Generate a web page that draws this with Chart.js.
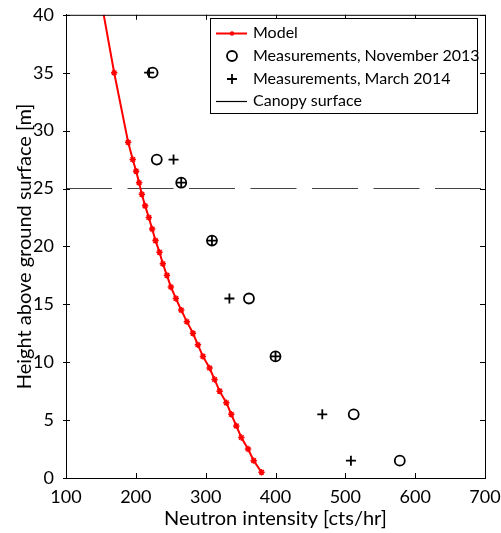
<!DOCTYPE html>
<html>
<head>
<meta charset="utf-8">
<script src="https://cdn.jsdelivr.net/npm/chart.js@4"></script>
<style>
html, body { margin: 0; padding: 0; background: #fff; }
#wrap { width: 501px; height: 533px; }
</style>
</head>
<body>
<div id="wrap"><canvas id="myChart" width="501" height="533"></canvas></div>
<script>
// Model profile (height in m, intensity in cts/hr)
var modelHeight = [40, 35, 29, 27.5, 26.5, 25.5, 24.5, 23.5, 22.5, 21.5, 20.5, 19.5, 18.5, 17.5, 16.5, 15.5,
                   14.5, 13.5, 12.5, 11.5, 10.5, 9.5, 8.5, 7.5, 6.5, 5.5, 4.5, 3.5, 2.5, 1.5, 0.5];
var modelIntensity = [154, 169, 189, 195.6, 200.4, 204.7, 208.6, 213.3, 218.6, 223.4, 228.2, 233.9, 238.7, 244.5, 250.2, 257.4,
                      265, 273.1, 281.8, 288.9, 296.1, 305.6, 312.8, 320, 329.6, 336.7, 343.9, 351.1, 360.7, 368.8, 380];

// Measurements
var measHeight = [35, 27.5, 25.5, 20.5, 15.5, 10.5, 5.5, 1.5];
var nov2013 = [224, 230, 265, 309, 362, 400, 512, 578];
var mar2014 = [219, 254, 265, 309, 334, 400, 467, 508];

// Canopy surface
var canopyHeight = 25;

var xTicks = [100, 200, 300, 400, 500, 600, 700];
var yTicks = [0, 5, 10, 15, 20, 25, 30, 35, 40];

function toPoints(xs, ys) {
    return xs.map(function(v, i) { return { x: v, y: ys[i] }; });
}

Chart.defaults.font.family = 'Lato';
Chart.defaults.color = '#000';

// Khung và vạch chia hướng vào trong
var framePlugin = {
    id: 'frame',
    afterDraw: function(chart) {
        var c = chart.ctx, a = chart.chartArea;
        var xs = chart.scales.x, ys = chart.scales.y;
        c.save();
        c.strokeStyle = '#000';
        c.lineWidth = 1;
        c.beginPath();
        c.rect(a.left + 0.5, a.top + 0.5, a.right - a.left, a.bottom - a.top);
        xTicks.forEach(function(t) {
            var px = Math.round(xs.getPixelForValue(t)) + 0.5;
            c.moveTo(px, a.bottom); c.lineTo(px, a.bottom - 5);
            c.moveTo(px, a.top); c.lineTo(px, a.top + 5);
        });
        yTicks.forEach(function(t) {
            var py = Math.round(ys.getPixelForValue(t)) + 0.5;
            c.moveTo(a.left - 3, py); c.lineTo(a.left + 4, py);
            c.moveTo(a.right, py); c.lineTo(a.right - 5, py);
        });
        c.stroke();
        c.restore();
    }
};

// Chú giải bên trong vùng vẽ
var legendPlugin = {
    id: 'boxLegend',
    afterDraw: function(chart) {
        var c = chart.ctx;
        var x0 = 210, y0 = 18, w = 267, h = 95;
        c.save();
        c.fillStyle = '#fff';
        c.fillRect(x0, y0, w, h);
        c.strokeStyle = '#000';
        c.lineWidth = 1;
        c.strokeRect(x0 + 0.5, y0 + 0.5, w, h);
        c.font = '16px Lato';
        c.textBaseline = 'middle';
        var rows = [33, 56, 79, 101];
        chart.data.datasets.forEach(function(ds, i) {
            var y = rows[i];
            c.strokeStyle = i === 3 ? '#000' : ds.borderColor;
            c.lineWidth = ds.borderWidth;
            if (i === 0 || i === 3) {
                c.beginPath();
                c.moveTo(216, y + 0.5); c.lineTo(247, y + 0.5);
                c.stroke();
                if (i === 0) {
                    c.fillStyle = ds.borderColor;
                    c.beginPath(); c.arc(232, y + 0.5, 2.2, 0, Math.PI * 2); c.fill();
                }
            } else if (i === 1) {
                c.beginPath(); c.arc(232, y, 5, 0, Math.PI * 2); c.stroke();
            } else {
                c.beginPath();
                c.moveTo(227, y); c.lineTo(237, y);
                c.moveTo(232, y - 5); c.lineTo(232, y + 5);
                c.stroke();
            }
            c.fillStyle = '#000';
            c.fillText(ds.label, 253, y);
        });
        c.restore();
    }
};

window.onload = function() {
    var ctx = document.getElementById('myChart').getContext('2d');
    new Chart(ctx, {
        type: 'scatter',
        data: {
            datasets: [{
                label: 'Model',
                data: toPoints(modelIntensity, modelHeight),
                showLine: true,
                borderColor: '#ff0000',
                backgroundColor: '#ff0000',
                borderWidth: 2,
                pointStyle: 'star',
                pointBorderWidth: 1.5,
                pointRadius: modelHeight.map(function(hh) { return hh >= 40 ? 0 : 3.2; }),
                order: 0
            }, {
                label: 'Measurements, November 2013',
                data: toPoints(nov2013, measHeight),
                borderColor: '#000',
                backgroundColor: 'rgba(0,0,0,0)',
                borderWidth: 1.8,
                pointStyle: 'circle',
                pointRadius: 5,
                order: 1
            }, {
                label: 'Measurements, March 2014',
                data: toPoints(mar2014, measHeight),
                borderColor: '#000',
                borderWidth: 1.8,
                pointStyle: 'cross',
                pointRadius: 5,
                order: 2
            }, {
                label: 'Canopy surface',
                data: [{ x: 100, y: canopyHeight }, { x: 700, y: canopyHeight }],
                showLine: true,
                borderColor: '#444',
                borderWidth: 1.2,
                borderDash: [46, 15.5],
                pointRadius: 0,
                order: 3
            }]
        },
        options: {
            responsive: false,
            animation: false,
            layout: { padding: { top: 12, right: 16, left: 0, bottom: 0 } },
            plugins: {
                legend: { display: false },
                tooltip: { enabled: false }
            },
            scales: {
                x: {
                    type: 'linear',
                    min: 100, max: 700,
                    afterFit: function(s) { s.height = 55; },
                    afterBuildTicks: function(s) { s.ticks = xTicks.map(function(v) { return { value: v }; }); },
                    ticks: { font: { size: 18 }, padding: 0, maxRotation: 0 },
                    grid: { display: false },
                    border: { display: true, color: '#000' },
                    title: { display: true, text: 'Neutron intensity [cts/hr]', font: { size: 20 }, padding: { top: 0, bottom: 2 } }
                },
                y: {
                    min: 0, max: 40,
                    afterFit: function(s) { s.width = 66; },
                    afterBuildTicks: function(s) { s.ticks = yTicks.map(function(v) { return { value: v }; }); },
                    ticks: { font: { size: 18 }, padding: 4 },
                    grid: { display: false },
                    border: { display: true, color: '#000' },
                    title: { display: true, text: 'Height above ground surface [m]', font: { size: 20 }, padding: { top: 13, bottom: 0 } }
                }
            }
        },
        plugins: [framePlugin, legendPlugin]
    });
};
</script>
</body>
</html>
